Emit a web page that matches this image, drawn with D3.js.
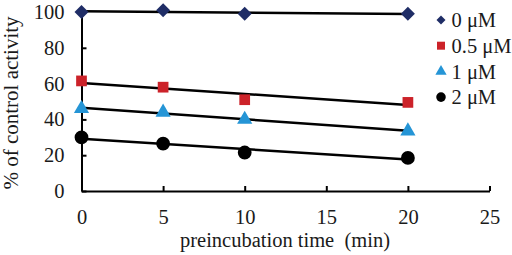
<!DOCTYPE html>
<html>
<head>
<meta charset="utf-8">
<script src="https://cdn.jsdelivr.net/npm/d3@7"></script>
<style>
body { margin: 0; background: #fff; }
text { font-family: "Liberation Serif", "Times New Roman", serif; fill: #1a1a1a; }
</style>
</head>
<body>
<div id="chart"></div>
<script>
// preincubation times (min)
var times = [0, 5, 10, 20];
var seriesNames = ["0 \u03bcM", "0.5 \u03bcM", "1 \u03bcM", "2 \u03bcM"];
var conc0 = [100, 101, 99, 99];
var conc05 = [61.5, 58, 51, 49.5];
var conc1 = [46, 44, 40, 33.5];
var conc2 = [30, 26.5, 21.5, 18.5];
var xTicks = [0, 5, 10, 15, 20, 25];
var yTicks = [0, 20, 40, 60, 80, 100];

var width = 512, height = 255;
var fontSize = "20.5px";
var colors = ["#1f2d66", "#cc2229", "#2595d6", "#000000"];
var symbols = [d3.symbolDiamond2, d3.symbolSquare, d3.symbolTriangle, d3.symbolCircle];
var symSizes = [125, 115, 100, 150];
var legendSizes = [52, 64, 55, 72];

var svg = d3.select("#chart").append("svg")
    .attr("width", width)
    .attr("height", height);

var x = d3.scaleLinear().domain([0, 25]).range([81.5, 489.5]);
var y = d3.scaleLinear().domain([0, 100]).range([191, 12]);

// axes
var xAxis = d3.axisBottom(x).tickValues(xTicks).tickSizeInner(-5).tickSizeOuter(0).tickPadding(18);
var yAxis = d3.axisLeft(y).tickValues(yTicks).tickSizeInner(-5).tickSizeOuter(0).tickPadding(17);

var gx = svg.append("g").attr("transform", "translate(0," + y(0) + ")").call(xAxis);
var gy = svg.append("g").attr("transform", "translate(" + x(0) + ",0)").call(yAxis);
[gx, gy].forEach(function(g){
    g.select(".domain").attr("stroke", "#000").attr("stroke-width", 2);
    g.selectAll(".tick line").attr("stroke", "#000").attr("stroke-width", 2);
    g.selectAll(".tick text").style("font-size", fontSize).attr("fill", "#1a1a1a");
});

// axis titles
svg.append("text")
    .text("preincubation time\u00a0\u00a0(min)")
    .attr("x", 285).attr("y", 247)
    .attr("text-anchor", "middle")
    .style("font-size", fontSize);
svg.append("text")
    .text("% of control activity")
    .attr("transform", "translate(18,103) rotate(-90)")
    .attr("text-anchor", "middle")
    .style("font-size", "21px");

var allSeries = [conc0, conc05, conc1, conc2];

// least squares trend line for each series
function fitLine(xs, ys){
    var mx = d3.mean(xs), my = d3.mean(ys);
    var sxy = d3.sum(xs, function(v, i){ return (v - mx) * (ys[i] - my); });
    var sxx = d3.sum(xs, function(v){ return (v - mx) * (v - mx); });
    var slope = sxy / sxx;
    return function(t){ return my + slope * (t - mx); };
}

allSeries.forEach(function(vals, si){
    var f = fitLine(times, vals);
    var t0 = d3.min(times), t1 = d3.max(times);
    svg.append("line")
        .attr("x1", x(t0)).attr("y1", y(f(t0)))
        .attr("x2", x(t1)).attr("y2", y(f(t1)))
        .attr("stroke", "#000")
        .attr("stroke-width", 2.5);
});

allSeries.forEach(function(vals, si){
    var sym = d3.symbol().type(symbols[si]).size(symSizes[si]);
    svg.append("g").selectAll("path")
        .data(vals)
        .enter()
        .append("path")
        .attr("d", sym)
        .attr("transform", function(d, i){
            return "translate(" + x(times[i]) + "," + y(d) + ")";
        })
        .attr("fill", colors[si]);
});

// legend
var legend = svg.append("g").attr("transform", "translate(441,20)");
seriesNames.forEach(function(name, si){
    var row = legend.append("g").attr("transform", "translate(0," + (si * 25.7) + ")");
    row.append("path")
        .attr("d", d3.symbol().type(symbols[si]).size(legendSizes[si]))
        .attr("fill", colors[si]);
    row.append("text")
        .text(name)
        .attr("x", 10.5)
        .attr("dy", "0.35em")
        .style("font-size", fontSize);
});
</script>
</body>
</html>
